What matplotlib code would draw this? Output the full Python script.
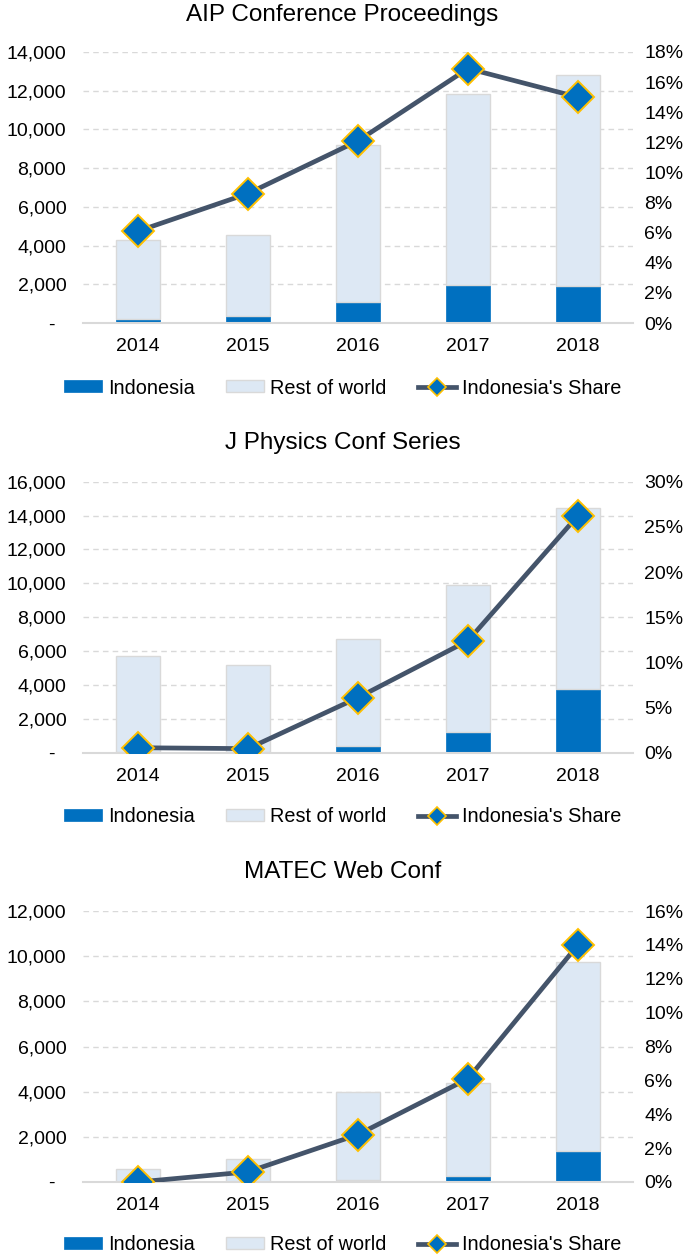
import matplotlib
matplotlib.use("Agg")
import matplotlib.pyplot as plt
from matplotlib.lines import Line2D
from matplotlib.ticker import FuncFormatter, MultipleLocator

plt.rcParams['font.family'] = ['Liberation Sans', 'DejaVu Sans']

years = ['2014', '2015', '2016', '2017', '2018']

aip_indonesia = [224, 344, 1068, 1963, 1894]
aip_rest = [4081, 4202, 8128, 9885, 10918]
aip_share = [6.1, 8.6, 12.1, 16.9, 15.0]

jpcs_indonesia = [30, 20, 393, 1219, 3774]
jpcs_rest = [5670, 5150, 6310, 8707, 10654]
jpcs_share = [0.55, 0.45, 6.1, 12.4, 26.25]

matec_indonesia = [3, 6, 88, 250, 1356]
matec_rest = [557, 1026, 3878, 4129, 8374]
matec_share = [0.0, 0.6, 2.8, 6.1, 14.0]

titles = ['AIP Conference Proceedings', 'J Physics Conf Series', 'MATEC Web Conf']

blue = '#0070C0'
light = '#DDE8F4'
slate = '#44546A'
gold = '#FFC000'
grey = '#D9D9D9'

#===============================================================================
# panel - one stacked bar + share line chart
#===============================================================================
def panel(fig, rect, title, title_y, legend_y, indo, rest, share, ymax, pmax, pstep):
    ax = fig.add_axes(rect)
    x = range(len(years))
    b1 = ax.bar(x, indo, width=0.4, color=blue, edgecolor=blue, linewidth=0.5,
                label='Indonesia', zorder=2)
    b2 = ax.bar(x, rest, bottom=indo, width=0.4, color=light, edgecolor=grey,
                linewidth=1.0, label='Rest of world', zorder=2)
    ax.set_xlim(-0.5, len(years) - 0.5)
    ax.set_ylim(0, ymax)
    ax.yaxis.set_major_locator(MultipleLocator(2000))
    ax.yaxis.set_major_formatter(FuncFormatter(
        lambda v, p: '-  ' if v == 0 else '{:,.0f}'.format(v)))
    ax.set_xticks(list(x))
    ax.set_xticklabels(years)
    ax.set_axisbelow(True)
    ax.grid(axis='y', color=grey, linestyle=(0, (4, 3)), linewidth=1.0)
    for s in ['top', 'left', 'right']:
        ax.spines[s].set_visible(False)
    ax.spines['bottom'].set_color(grey)
    ax.spines['bottom'].set_linewidth(1.5)
    ax.tick_params(axis='both', length=0, labelsize=14, colors='#000000')
    ax.tick_params(axis='x', pad=11)
    ax.tick_params(axis='y', pad=12)

    ax2 = ax.twinx()
    ax2.plot(list(x), share, color=slate, linewidth=3.4, marker='D',
             markersize=16, markerfacecolor=blue, markeredgecolor=gold,
             markeredgewidth=1.4, zorder=3)
    ax2.set_ylim(0, pmax)
    ax2.yaxis.set_major_locator(MultipleLocator(pstep))
    ax2.yaxis.set_major_formatter(FuncFormatter(lambda v, p: '%d%%' % round(v)))
    for s in ['top', 'left', 'right', 'bottom']:
        ax2.spines[s].set_visible(False)
    ax2.tick_params(axis='y', length=0, labelsize=14, pad=8)

    fig.text(0.5, title_y, title, ha='center', va='center', fontsize=17.5)
    share_handle = Line2D([], [], color=slate, linewidth=3.4, marker='D',
                          markersize=9, markerfacecolor=blue,
                          markeredgecolor=gold, markeredgewidth=1.2)
    fig.legend([b1, b2, share_handle], ['Indonesia', 'Rest of world', "Indonesia's Share"],
               loc='center', bbox_to_anchor=(0.5, legend_y), ncol=3, frameon=False,
               fontsize=14.3, handlelength=1.9, handleheight=0.55, handletextpad=0.3,
               columnspacing=1.6)
    return ax


fig = plt.figure(figsize=(6.85, 12.6), dpi=100)
left = 83 / 685.
width = 550 / 685.
height = 271 / 1260.

panel(fig, [left, (1260 - 323) / 1260., width, height], titles[0],
      (1260 - 15) / 1260., (1260 - 388) / 1260.,
      aip_indonesia, aip_rest, aip_share, 14000, 18, 2)
panel(fig, [left, (1260 - 752.7) / 1260., width, height], titles[1],
      (1260 - 443) / 1260., (1260 - 817) / 1260.,
      jpcs_indonesia, jpcs_rest, jpcs_share, 16000, 30, 5)
panel(fig, [left, (1260 - 1182) / 1260., width, height], titles[2],
      (1260 - 872) / 1260., (1260 - 1245) / 1260.,
      matec_indonesia, matec_rest, matec_share, 12000, 16, 2)

fig.savefig('out.png', dpi=100)
